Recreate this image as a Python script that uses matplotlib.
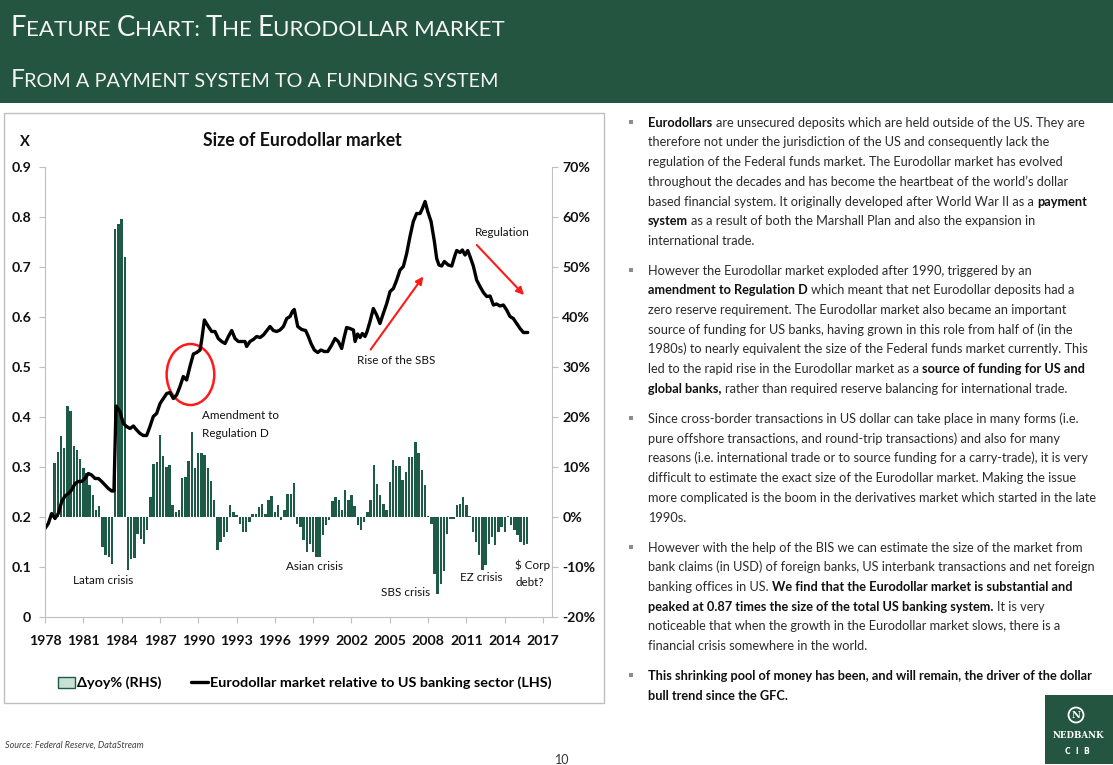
import numpy as np
import matplotlib
matplotlib.use("Agg")
import matplotlib.pyplot as plt
from matplotlib.patches import Rectangle, Ellipse, Patch

# ---------------------------------------------------------------- data
bar_first_quarter = 1978.75          # first quarterly observation of the bars
yoy_pct = [
    10.9, 13.1, 16.3, 13.9, 22.2, 21.3, 14.2, 13.4, 11.7, 9.8, 8.9, 6.5, 4.5, 1.5, 2.2,
    -5.9, -7.6, -8.0, -9.3,
    57.7, 58.7, 59.6, 52.1,
    -10.5, -8.3, -8.1, -3.3, -4.3, -5.3, -2.5,
    4.0, 10.6, 11.0, 16.5, 12.2, 10.0, 10.5, 2.5, 1.0, 1.5, 7.8, 8.0, 11.2, 17.0, 9.8,
    12.8, 12.8, 12.5, 9.8, 7.2, 3.5,
    -6.6, -4.9, -4.0, -3.0,
    2.5, 1.0, 0.5, -1.3, -3.0, -3.0, -0.9, 0.7, 0.7, 2.1, 2.7, 0.7, 3.4, 4.2, 1.1, 2.5,
    -0.5, 1.4, 4.6, 4.6, 6.9,
    -1.3, -1.9, -4.6, -6.9, -5.3, -6.9, -7.9, -7.9, -3.6, -1.6, -0.6,
    3.2, 4.1, 3.4, 1.4, 5.4, 3.5, 4.5, 2.2,
    -1.6, -2.5, -0.9,
    1.1, 3.5, 10.4, 6.7, 4.4, 2.7, 1.5, 7.1, 11.5, 10.3, 10.3, 7.5, 9.1, 12.1, 12.1,
    15.1, 12.9, 9.5, 6.4, 0.3,
    -1.3, -11.3, -15.3, -13.3, -10.7, -3.3, -0.4, -0.4,
    2.4, 2.7, 4.1, 2.4, 0.3,
    -2.9, -4.9, -7.6, -10.5, -9.6, -5.3, -3.9, -5.6, -2.9, -1.9, -2.9,
    0.2,
    -1.6, -2.6, -3.6, -4.9, -5.6, -5.3,
]

line_years = [
    1978.00, 1978.26, 1978.52, 1978.78, 1979.04, 1979.31, 1979.57, 1979.83, 1980.09, 1980.35,
    1980.61, 1980.87, 1981.13, 1981.39, 1981.65, 1981.92, 1982.18, 1982.44, 1982.70, 1982.96,
    1983.22, 1983.40, 1983.56, 1983.87, 1984.13, 1984.39, 1984.66, 1984.92, 1985.18, 1985.44,
    1985.70, 1985.96, 1986.22, 1986.48, 1986.74, 1987.01, 1987.27, 1987.53, 1987.79, 1988.05,
    1988.31, 1988.57, 1988.83, 1989.09, 1989.35, 1989.62, 1989.88, 1990.14, 1990.27, 1990.48,
    1990.79, 1991.05, 1991.31, 1991.57, 1991.83, 1992.10, 1992.36, 1992.62, 1992.88, 1993.14,
    1993.40, 1993.66, 1993.79, 1994.05, 1994.31, 1994.58, 1994.84, 1995.10, 1995.62, 1995.88,
    1996.14, 1996.40, 1996.67, 1996.93, 1997.19, 1997.37, 1997.52, 1997.79, 1998.10, 1998.41,
    1998.62, 1998.83, 1999.09, 1999.35, 1999.61, 1999.87, 2000.14, 2000.45, 2000.71, 2000.97,
    2001.23, 2001.44, 2001.62, 2001.88, 2002.15, 2002.28, 2002.48, 2002.67, 2002.85, 2003.06,
    2003.22, 2003.45, 2003.71, 2003.97, 2004.23, 2004.49, 2004.76, 2005.02, 2005.28, 2005.54,
    2005.80, 2006.06, 2006.32, 2006.58, 2006.84, 2007.10, 2007.37, 2007.55, 2007.76, 2007.97,
    2008.23, 2008.49, 2008.67, 2008.85, 2009.06, 2009.27, 2009.58, 2009.85, 2010.11, 2010.24,
    2010.50, 2010.68, 2010.89, 2011.10, 2011.28, 2011.54, 2011.80, 2012.06, 2012.33, 2012.59,
    2012.85, 2013.11, 2013.37, 2013.63, 2013.89, 2014.15, 2014.41, 2014.67, 2014.94, 2015.20,
    2015.46, 2015.80,
]
line_ratio = [
    0.177, 0.187, 0.207, 0.197, 0.207, 0.231, 0.242, 0.247, 0.254, 0.267,
    0.271, 0.271, 0.277, 0.287, 0.284, 0.277, 0.277, 0.271, 0.264, 0.257,
    0.252, 0.252, 0.422, 0.411, 0.387, 0.381, 0.377, 0.382, 0.374, 0.367,
    0.363, 0.363, 0.381, 0.401, 0.407, 0.427, 0.437, 0.447, 0.449, 0.437,
    0.444, 0.461, 0.481, 0.474, 0.501, 0.526, 0.529, 0.534, 0.554, 0.594,
    0.581, 0.571, 0.571, 0.557, 0.551, 0.547, 0.561, 0.573, 0.557, 0.551,
    0.551, 0.551, 0.541, 0.551, 0.555, 0.561, 0.559, 0.564, 0.581, 0.573,
    0.571, 0.574, 0.581, 0.597, 0.601, 0.611, 0.615, 0.581, 0.575, 0.573,
    0.561, 0.547, 0.534, 0.529, 0.534, 0.531, 0.531, 0.544, 0.557, 0.551,
    0.537, 0.561, 0.579, 0.577, 0.574, 0.551, 0.566, 0.559, 0.567, 0.561,
    0.571, 0.591, 0.617, 0.604, 0.587, 0.607, 0.627, 0.651, 0.657, 0.674,
    0.694, 0.701, 0.727, 0.761, 0.791, 0.807, 0.807, 0.817, 0.831, 0.811,
    0.791, 0.751, 0.717, 0.704, 0.702, 0.711, 0.704, 0.702, 0.724, 0.733,
    0.729, 0.734, 0.724, 0.733, 0.721, 0.702, 0.674, 0.661, 0.649, 0.641,
    0.642, 0.624, 0.626, 0.622, 0.624, 0.614, 0.601, 0.597, 0.587, 0.577,
    0.569, 0.569,
]

x_ticks = [1978, 1981, 1984, 1987, 1990, 1993, 1996, 1999, 2002, 2005, 2008, 2011, 2014, 2017]
left_ticks = [0, 0.1, 0.2, 0.3, 0.4, 0.5, 0.6, 0.7, 0.8, 0.9]
left_ticklabels = ["0", "0.1", "0.2", "0.3", "0.4", "0.5", "0.6", "0.7", "0.8", "0.9"]
right_ticks = [-20, -10, 0, 10, 20, 30, 40, 50, 60, 70]
right_ticklabels = ["-20%", "-10%", "0%", "10%", "20%", "30%", "40%", "50%", "60%", "70%"]

bar_label = "\u0394yoy% (RHS)"
line_label = "Eurodollar market relative to US banking sector (LHS)"
chart_title = "Size of Eurodollar market"

title_line1 = [("F", 1), ("EATURE ", 0), ("C", 1), ("HART: ", 0), ("T", 1), ("HE ", 0),
               ("E", 1), ("URODOLLAR MARKET", 0)]
title_line2 = [("F", 1), ("ROM A PAYMENT SYSTEM TO A FUNDING SYSTEM", 0)]

paragraphs = [
    [[("Eurodollars", 1), (" are unsecured deposits which are held outside of the US. They are", 0)],
     [("therefore not under the jurisdiction of the US and consequently lack the", 0)],
     [("regulation of the Federal funds market. The Eurodollar market has evolved", 0)],
     [("throughout the decades and has become the heartbeat of the world\u2019s dollar", 0)],
     [("based financial system. It originally developed after World War II as a ", 0), ("payment", 1)],
     [("system", 1), (" as a result of both the Marshall Plan and also the expansion in", 0)],
     [("international trade.", 0)]],
    [[("However the Eurodollar market exploded after 1990, triggered by an", 0)],
     [("amendment to Regulation D", 1), (" which meant that net Eurodollar deposits had a", 0)],
     [("zero reserve requirement. The Eurodollar market also became an important", 0)],
     [("source of funding for US banks, having grown in this role from half of (in the", 0)],
     [("1980s) to nearly equivalent the size of the Federal funds market currently. This", 0)],
     [("led to the rapid rise in the Eurodollar market as a ", 0), ("source of funding for US and", 1)],
     [("global banks,", 1), (" rather than required reserve balancing for international trade.", 0)]],
    [[("Since cross-border transactions in US dollar can take place in many forms (i.e.", 0)],
     [("pure offshore transactions, and round-trip transactions) and also for many", 0)],
     [("reasons (i.e. international trade or to source funding for a carry-trade), it is very", 0)],
     [("difficult to estimate the exact size of the Eurodollar market. Making the issue", 0)],
     [("more complicated is the boom in the derivatives market which started in the late", 0)],
     [("1990s.", 0)]],
    [[("However with the help of the BIS we can estimate the size of the market from", 0)],
     [("bank claims (in USD) of foreign banks, US interbank transactions and net foreign", 0)],
     [("banking offices in US. ", 0), ("We find that the Eurodollar market is substantial and", 1)],
     [("peaked at 0.87 times the size of the total US banking system.", 1), (" It is very", 0)],
     [("noticeable that when the growth in the Eurodollar market slows, there is a", 0)],
     [("financial crisis somewhere in the world.", 0)]],
    [[("This shrinking pool of money has been, and will remain, the driver of the dollar", 1)],
     [("bull trend since the GFC.", 1)]],
]
paragraph_first_baseline = [126.7, 274.5, 423.0, 551.5, 680.0]

# ---------------------------------------------------------------- setup
W, H = 1113, 765
TEXT_FONT = ["Lato", "DejaVu Sans"]
CHART_FONT = ["Lato", "DejaVu Sans"]
plt.rcParams["font.family"] = TEXT_FONT
GREEN = "#245541"
BAR_GREEN = "#1e5b46"
GRID_GREY = "#bfbfbf"

fig = plt.figure(figsize=(W / 100, H / 100), dpi=100)
fig.patch.set_facecolor("white")
R = fig.canvas.get_renderer()


def fx(px):
    return px / W


def fy(py):
    return 1 - py / H


def tw(s, size, weight="normal", family=TEXT_FONT, style="normal"):
    t = fig.text(0, 0, "|" + s + "|", fontsize=size, fontweight=weight, family=family, fontstyle=style)
    w1 = t.get_window_extent(R).width
    t.set_text("||")
    w2 = t.get_window_extent(R).width
    t.remove()
    return w1 - w2


def fit(s, target, weight="normal", family=TEXT_FONT, style="normal"):
    return 10.0 * target / tw(s, 10.0, weight, family, style)


def draw_run(x, base, s, size, weight, family, color):
    lead = len(s) - len(s.lstrip(" "))
    core = s.strip(" ")
    if core:
        xs = x + (tw(" " * lead, size, weight, family) if lead else 0)
        fig.text(fx(xs), fy(base), core, fontsize=size, fontweight=weight, family=family,
                 color=color, ha="left", va="baseline")
    return x + tw(s, size, weight, family)


# ---------------------------------------------------------------- header
fig.add_artist(Rectangle((0, fy(103)), 1, 103 / H, transform=fig.transFigure,
                         facecolor=GREEN, edgecolor="none", zorder=0))


def small_caps(x0, base, pieces, target, ratio=0.81):
    w = sum(tw(s, 10.0 * (1 if big else ratio)) for s, big in pieces)
    k = 10.0 * target / w
    x = x0
    for s, big in pieces:
        x = draw_run(x, base, s, k * (1 if big else ratio), "normal", TEXT_FONT, "#f4f4f4")


small_caps(10.5, 36, title_line1, 491)
small_caps(10.5, 87, title_line2, 486)

# ---------------------------------------------------------------- chart frame
fig.add_artist(Rectangle((fx(4), fy(703)), 600 / W, 590 / H, transform=fig.transFigure,
                         fill=False, edgecolor=GRID_GREY, lw=1.0))

ax = fig.add_axes([fx(45), fy(617), 507 / W, 450 / H])
ax2 = ax.twinx()
ax.set_zorder(ax2.get_zorder() + 1)
ax.patch.set_visible(False)

bar_dates = bar_first_quarter + 0.25 * np.arange(len(yoy_pct))
ax2.bar(bar_dates, yoy_pct, width=0.19, color=BAR_GREEN, linewidth=0)
line, = ax.plot(line_years, line_ratio, color="black", lw=2.4,
                solid_joinstyle="round", solid_capstyle="round")

ax.set_xlim(1978, 2017.7)
ax.set_ylim(0, 0.9)
ax2.set_ylim(-20, 70)

for s in ["top", "right"]:
    ax.spines[s].set_visible(False)
for s in ["top", "left", "bottom"]:
    ax2.spines[s].set_visible(False)
ax.spines["left"].set_color(GRID_GREY)
ax.spines["bottom"].set_color(GRID_GREY)
ax2.spines["right"].set_color(GRID_GREY)

tick_size = 1.15 * fit("1978", 28.3, "bold", CHART_FONT)
tick_font = dict(family=CHART_FONT, weight="bold", size=tick_size, color="#111111")
ax.set_xticks(x_ticks)
ax.set_xticklabels([str(t) for t in x_ticks], fontdict=tick_font)
ax.set_yticks(left_ticks)
ax.set_yticklabels(left_ticklabels, fontdict=tick_font)
ax2.set_yticks(right_ticks)
ax2.set_yticklabels(right_ticklabels, fontdict=tick_font)
ax.tick_params(axis="x", direction="out", length=4, color=GRID_GREY, pad=9)
ax.tick_params(axis="y", direction="out", length=4, color=GRID_GREY, pad=6)
ax2.tick_params(axis="y", direction="out", length=4, color=GRID_GREY, pad=3.5)

# chart title and unit label
title_size = 1.1 * fit(chart_title, 181, "bold", CHART_FONT)
fig.text(fx(302.5), fy(146), chart_title, ha="center", va="baseline", fontsize=title_size,
         fontweight="bold", family=CHART_FONT, color="#111111")
fig.text(fx(25), fy(146), "X", ha="center", va="baseline", fontsize=tick_size * 1.05,
         fontweight="bold", family=CHART_FONT, color="#111111")

# annotations
ann_size = 1.15 * fit("Latam crisis", 52, "normal", CHART_FONT)
ann = dict(fontsize=ann_size, family=CHART_FONT, color="#111111", va="center")
ax.text(1982.58, 0.073, "Latam crisis", ha="center", **ann)
ax.text(1990.27, 0.403, "Amendment to", ha="left", **ann)
ax.text(1990.27, 0.367, "Regulation D", ha="left", **ann)
ax.text(1999.12, 0.101, "Asian crisis", ha="center", **ann)
ax.text(2006.23, 0.050, "SBS crisis", ha="center", **ann)
ax.text(2012.13, 0.079, "EZ crisis", ha="center", **ann)
ax.text(2014.83, 0.104, "$ Corp", ha="left", **ann)
ax.text(2014.86, 0.069, "debt?", ha="left", **ann)
ax.text(2005.47, 0.513, "Rise of the SBS", ha="center", **ann)
ax.text(2013.83, 0.769, "Regulation", ha="center", **ann)

arrow = dict(arrowstyle="-|>", color="#ff1a1a", lw=1.5, mutation_scale=11, shrinkA=0, shrinkB=0)
ax.annotate("", xy=(2007.62, 0.681), xytext=(2003.50, 0.535), arrowprops=arrow)
ax.annotate("", xy=(2015.51, 0.644), xytext=(2011.81, 0.744), arrowprops=arrow)
ax.add_patch(Ellipse((1989.39, 0.485), 3.73, 0.122, fill=False, edgecolor="#ff1a1a", lw=1.8))

# legend
leg_size = 1.06 * fit(line_label, 322, "bold", CHART_FONT)
px_per_font = leg_size * 100 / 72
handles = [Patch(facecolor="#c9e0d4", edgecolor=BAR_GREEN, lw=1.0), line]
ax.legend(handles, [bar_label, line_label], loc="center", ncol=2,
          bbox_to_anchor=(fx(305), fy(683)), bbox_transform=fig.transFigure,
          frameon=False, prop=dict(family=CHART_FONT, weight="bold", size=leg_size),
          handlelength=17 / px_per_font, handleheight=0.8, handletextpad=2 / px_per_font,
          columnspacing=30 / px_per_font, borderpad=0, borderaxespad=0)

# ---------------------------------------------------------------- right text column
body_size = fit("reasons (i.e. international trade or to source funding for a carry-trade), it is very", 440.7)
LINE_STEP = 19.7
for para, base0 in zip(paragraphs, paragraph_first_baseline):
    fig.add_artist(Rectangle((fx(629), fy(base0 - 3)), 4 / W, 4 / H, transform=fig.transFigure,
                             facecolor="#8c8c8c", edgecolor="none"))
    for i, runs in enumerate(para):
        x = 648.0
        for s, bold in runs:
            x = draw_run(x, base0 + i * LINE_STEP, s, body_size, "bold" if bold else "normal",
                         TEXT_FONT, "#111111" if bold else "#2b2b2b")

# ---------------------------------------------------------------- footer
src_size = fit("Source: Federal Reserve, DataStream", 139, style="italic")
fig.text(fx(5), fy(745), "Source: Federal Reserve, DataStream", fontsize=src_size, style="italic",
         color="#3f3f3f", ha="left", va="center")
fig.text(fx(562), fy(760), "10", fontsize=9, color="#333333", ha="center", va="center")

# logo
fig.add_artist(Rectangle((fx(1045), fy(764)), 68 / W, 69 / H, transform=fig.transFigure,
                         facecolor=GREEN, edgecolor="none"))
fig.add_artist(Ellipse((fx(1076), fy(715)), 15 / W, 15 / H, transform=fig.transFigure,
                       fill=False, edgecolor="white", lw=1.3))
fig.text(fx(1076), fy(715), "N", fontsize=7, fontweight="bold", family="DejaVu Serif",
         color="white", ha="center", va="center")
nb_size = fit("NEDBANK", 52, "bold", "DejaVu Serif")
fig.text(fx(1078), fy(736), "NEDBANK", fontsize=nb_size, fontweight="bold", family="DejaVu Serif",
         color="white", ha="center", va="center")
fig.text(fx(1077), fy(751), "C  I  B", fontsize=5.5, fontweight="bold", family="DejaVu Sans",
         color="white", ha="center", va="center")

fig.savefig("out.png", dpi=100, facecolor="white")
